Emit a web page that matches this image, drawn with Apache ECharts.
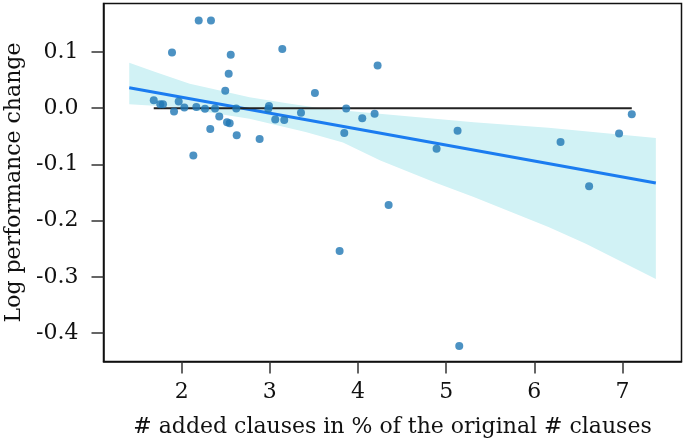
<!DOCTYPE html>
<html>
<head>
<meta charset="utf-8">
<script src="https://cdn.jsdelivr.net/npm/echarts@6/dist/echarts.min.js"></script>
<style>
html,body{margin:0;padding:0;background:#fff;}
#chart{width:685px;height:444px;}
</style>
</head>
<body>
<div id="chart"></div>
<script>
// Scatter data: x = # added clauses in %, y = log performance change
const pointsX = [2.193, 2.332, 1.890, 2.556, 2.533, 3.141, 4.222, 2.494, 3.511, 1.683,
  1.757, 1.788, 1.966, 1.913, 2.030, 2.166, 2.264, 2.378, 2.619, 2.426,
  2.514, 2.544, 2.324, 2.624, 2.132, 2.884, 2.990, 2.982, 3.061, 3.163,
  3.353, 3.866, 3.844, 4.048, 4.188, 4.891, 5.129, 6.297, 6.621, 6.961,
  7.105, 3.791, 4.347, 5.148];
const pointsY = [0.156, 0.156, 0.099, 0.095, 0.061, 0.105, 0.076, 0.031, 0.027, 0.014,
  0.007, 0.007, 0.012, -0.006, 0.001, 0.002, -0.001, -0.0005, -0.0005, -0.015,
  -0.025, -0.027, -0.037, -0.048, -0.084, -0.055, 0.004, -0.001, -0.020, -0.021,
  -0.008, -0.0005, -0.044, -0.018, -0.010, -0.072, -0.040, -0.060, -0.139, -0.045,
  -0.011, -0.254, -0.172, -0.423];

// Regression fit line endpoints
const fitX = [1.405, 7.378];
const fitY = [0.0362, -0.1332];

// Confidence band edges
const bandUpperX = [1.405, 1.709, 2.091, 2.345, 2.769, 3.193, 3.617, 4.464, 5.312, 6.160, 7.378];
const bandUpperY = [0.0806, 0.064, 0.0433, 0.0345, 0.0195, 0.0089, -0.001, -0.013, -0.0249, -0.0349, -0.0533];
const bandLowerX = [1.405, 1.922, 2.769, 3.405, 3.829, 4.253, 4.888, 5.312, 6.160, 6.584, 7.378];
const bandLowerY = [0.0070, 0.0018, -0.0189, -0.0426, -0.0610, -0.0930, -0.1330, -0.158, -0.2114, -0.2409, -0.3037];

// Zero reference line
const zeroX = [1.683, 7.105];
const zeroY = [0, 0];

// Ticks
const xTicks = [2, 3, 4, 5, 6, 7];
const yTicks = [0.1, 0.0, -0.1, -0.2, -0.3, -0.4];

const xLabel = '# added clauses in % of the original # clauses';
const yLabel = 'Log performance change';

const FONT = 'DejaVu Serif';
const chart = echarts.init(document.getElementById('chart'), null, {renderer: 'canvas'});

const scatterData = pointsX.map((x, i) => [x, pointsY[i]]);
const fitData = fitX.map((x, i) => [x, fitY[i]]);
const zeroData = zeroX.map((x, i) => [x, zeroY[i]]);

const option = {
  animation: false,
  backgroundColor: '#fff',
  grid: {
    left: 103.5, right: 3.5, top: 3.5, bottom: 82.5,
    containLabel: false, outerBoundsMode: 'none',
    show: true, borderColor: '#111', borderWidth: 1.5, backgroundColor: 'transparent'
  },
  xAxis: {
    type: 'value', min: 1.113, max: 7.669,
    name: xLabel, nameLocation: 'middle', nameGap: 55,
    nameTextStyle: {fontFamily: FONT, fontSize: 22, color: '#111'},
    axisLine: {show: true, onZero: false, lineStyle: {color: '#111', width: 1.5}},
    axisTick: {show: true, length: 12, customValues: xTicks, lineStyle: {color: '#333', width: 1.5}},
    axisLabel: {customValues: xTicks, margin: 20, fontFamily: FONT, fontSize: 22, color: '#111',
      formatter: v => String(v)},
    splitLine: {show: false}
  },
  yAxis: {
    type: 'value', min: -0.4504, max: 0.186,
    name: yLabel, nameLocation: 'middle', nameGap: 77, nameRotate: 90,
    nameTextStyle: {fontFamily: FONT, fontSize: 22, color: '#111'},
    axisLine: {show: true, onZero: false, lineStyle: {color: '#111', width: 1.5}},
    axisTick: {show: true, length: 12, customValues: yTicks, lineStyle: {color: '#333', width: 1.5}},
    axisLabel: {customValues: yTicks, margin: 25, fontFamily: FONT, fontSize: 22, color: '#111',
      formatter: v => (Math.abs(v) < 1e-9 ? '0.0' : v.toFixed(1))},
    splitLine: {show: false}
  },
  series: [
    {
      type: 'custom',
      z: 1,
      silent: true,
      data: [[bandUpperX[0], bandUpperY[0]]],
      renderItem: function (params, api) {
        const pts = [];
        for (let i = 0; i < bandUpperX.length; i++) pts.push(api.coord([bandUpperX[i], bandUpperY[i]]));
        for (let i = bandLowerX.length - 1; i >= 0; i--) pts.push(api.coord([bandLowerX[i], bandLowerY[i]]));
        return {
          type: 'polygon',
          shape: {points: pts},
          style: {fill: 'rgb(209,242,245)', stroke: null}
        };
      }
    },
    {
      type: 'line', z: 2, data: fitData, showSymbol: false, symbol: 'none',
      lineStyle: {color: '#1b7cf0', width: 3}
    },
    {
      type: 'line', z: 3, data: zeroData, showSymbol: false, symbol: 'none',
      lineStyle: {color: '#222', width: 2}
    },
    {
      type: 'scatter', z: 4, data: scatterData, symbolSize: 8,
      itemStyle: {color: '#1f77b4', opacity: 0.8}
    }
  ]
};
chart.setOption(option);
</script>
</body>
</html>
